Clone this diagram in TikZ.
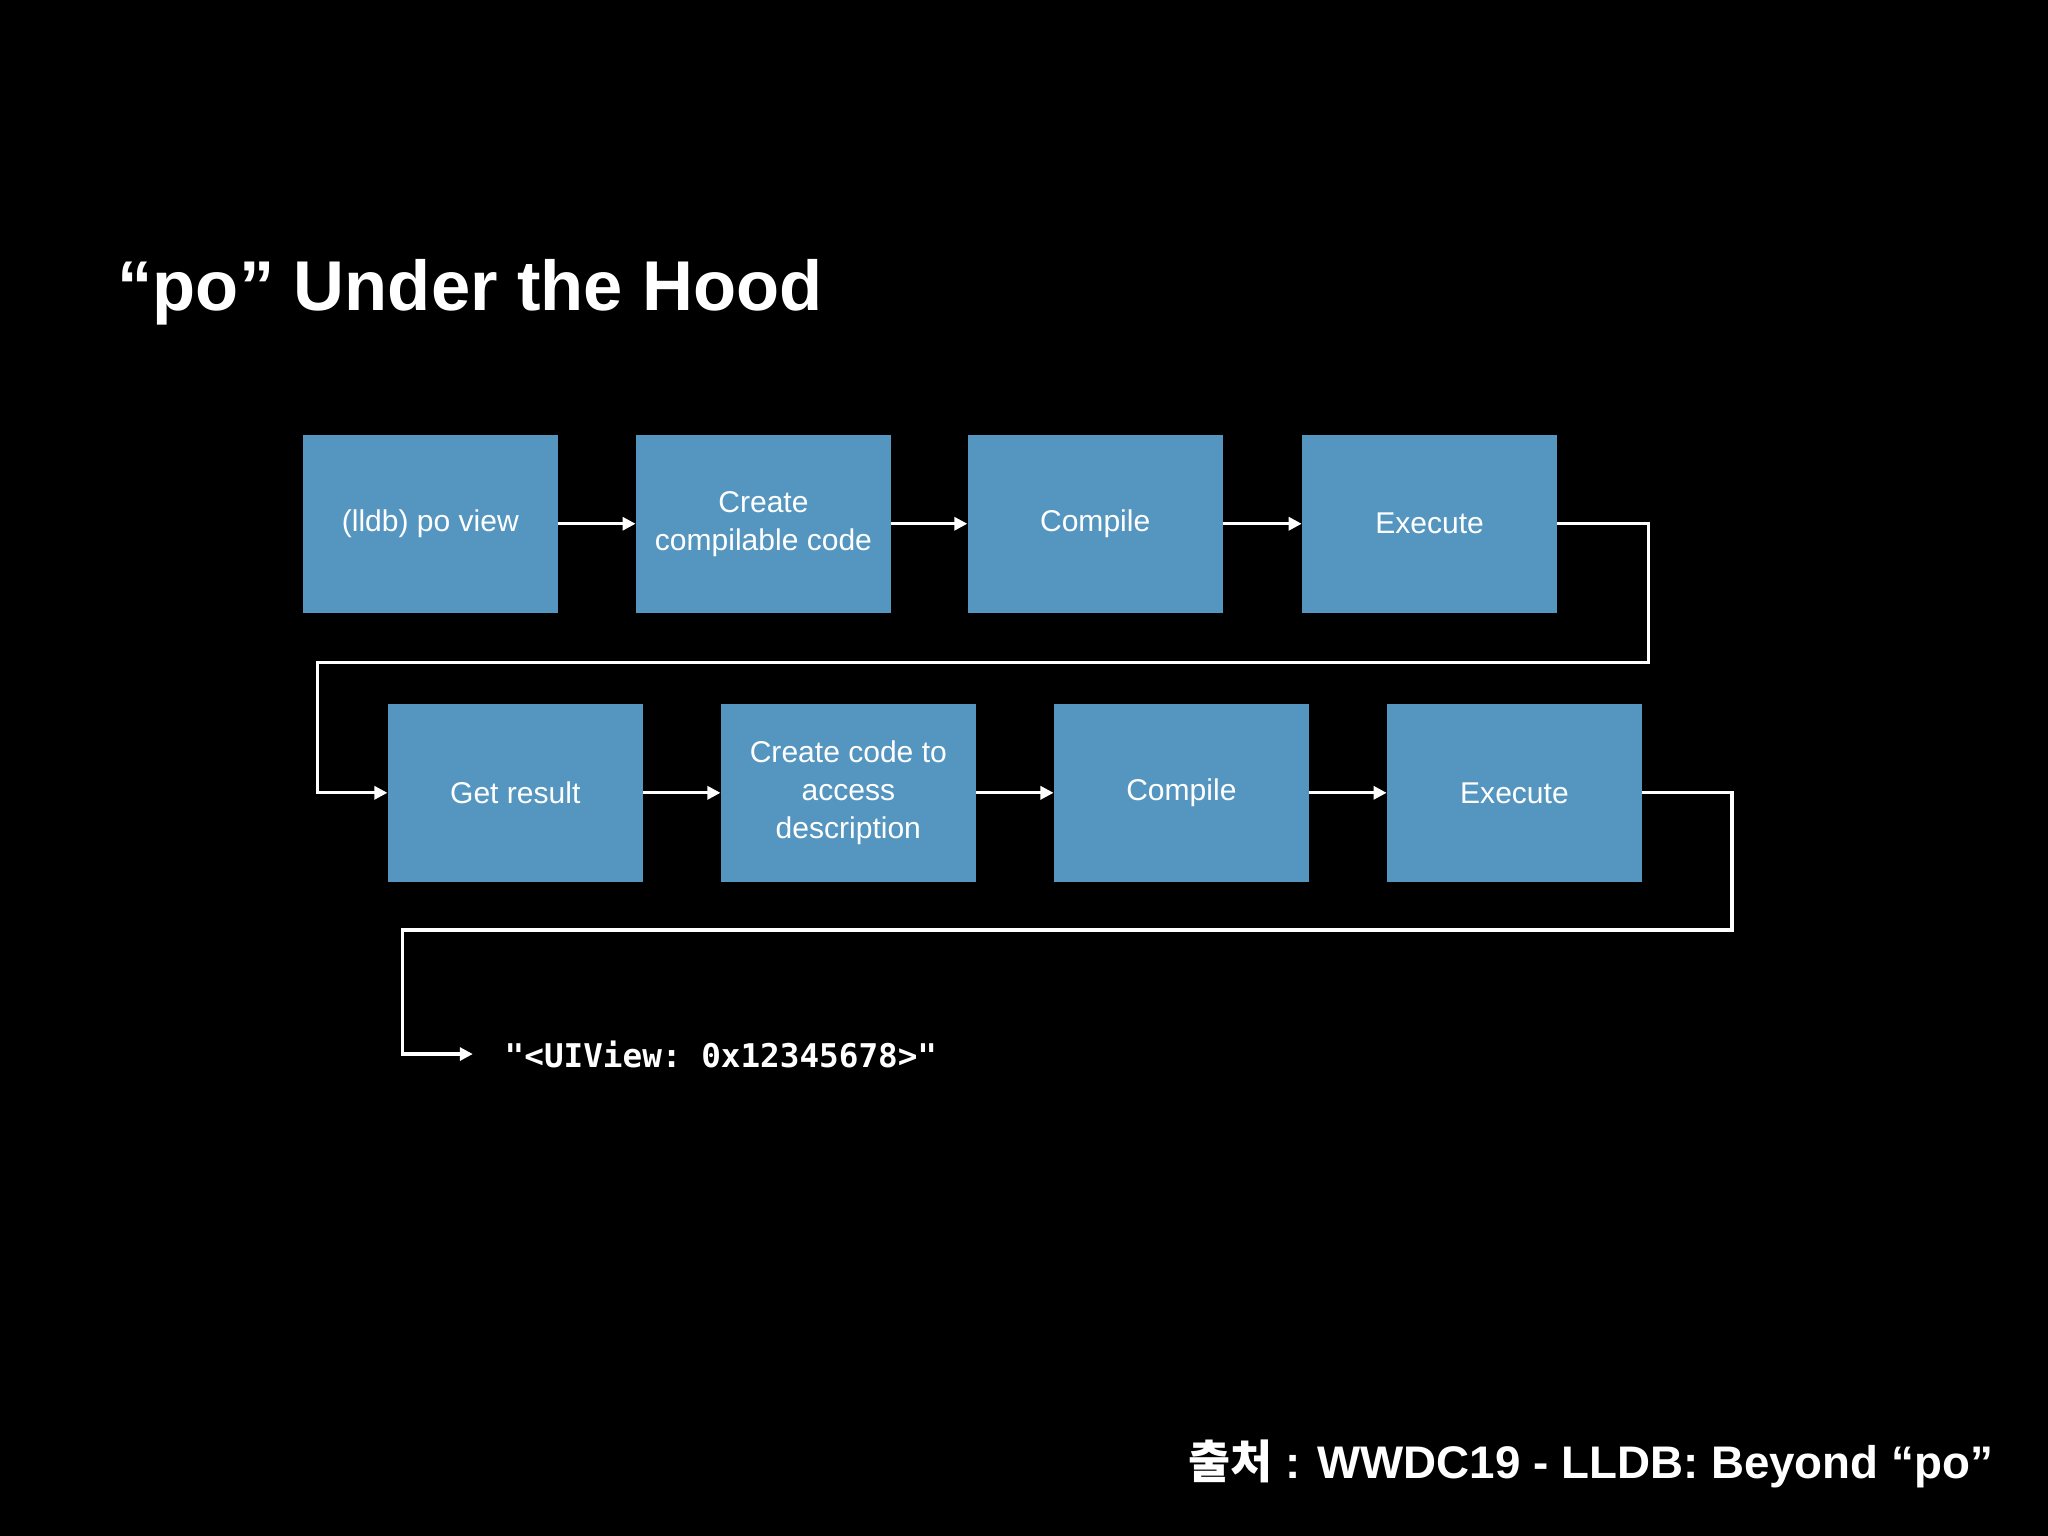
\documentclass[tikz,border=0pt]{standalone}
\usepackage{fontspec}
\setmainfont{Liberation Sans}
\setmonofont{DejaVu Sans Mono}
\newfontfamily\kr{Noto Sans CJK KR}
\usetikzlibrary{arrows.meta}
\definecolor{boxblue}{HTML}{5596C1}
\tikzset{
  stepbox/.style={fill=boxblue,minimum width=97.5pt,minimum height=68pt,inner sep=0pt,text=white,align=center,font=\fontsize{11.5}{14.5}\selectfont},
  conn/.style={draw=white,line width=1.2pt,-{Triangle[length=5pt,width=5pt]}}
}
\begin{document}
\begin{tikzpicture}[x=0.5pt,y=-0.5pt]
\fill[black] (0,0) rectangle (1568,1176);
\node[anchor=base west,text=white,font=\bfseries\fontsize{27}{30}\selectfont] (title) at (83,238) {“po” Under the Hood};
\node[stepbox] (a1) at (329.5,401) {(lldb) po view};
\node[stepbox] (a2) at (584.5,401) {Create\\compilable code};
\node[stepbox] (a3) at (838.5,401) {Compile};
\node[stepbox] (a4) at (1094.5,401) {Execute};
\node[stepbox] (b1) at (394.5,607) {Get result};
\node[stepbox] (b2) at (649.5,607) {Create code to\\access\\description};
\node[stepbox] (b3) at (904.5,607) {Compile};
\node[stepbox] (b4) at (1159.5,607) {Execute};
\node[anchor=west,text=white,font=\ttfamily\bfseries\fontsize{12.5}{15}\selectfont,inner sep=0pt] (res) at (386,807) {"<UIView: 0x12345678>"};
\coordinate (r1) at (1262,401);
\coordinate (r2) at (1262,507);
\coordinate (r3) at (243,507);
\coordinate (s1) at (1326,607);
\coordinate (s2) at (1326,712);
\coordinate (s3) at (308,712);
\coordinate (e) at (362,807);
\draw[conn] (a1) -- (a2);
\draw[conn] (a2) -- (a3);
\draw[conn] (a3) -- (a4);
\draw[conn] (a4.east) -- (r1) -- (r2) -- (r3) |- (b1.west);
\draw[conn] (b1) -- (b2);
\draw[conn] (b2) -- (b3);
\draw[conn] (b3) -- (b4);
\draw[conn] (b4.east) -- (s1) -- (s2) -- (s3) |- (e);
\node[anchor=base east,text=white,font=\bfseries\fontsize{17.5}{20}\selectfont] (src) at (1533,1132) {{\kr 출처} : WWDC19 - LLDB: Beyond “po"};
\end{tikzpicture}
\end{document}
